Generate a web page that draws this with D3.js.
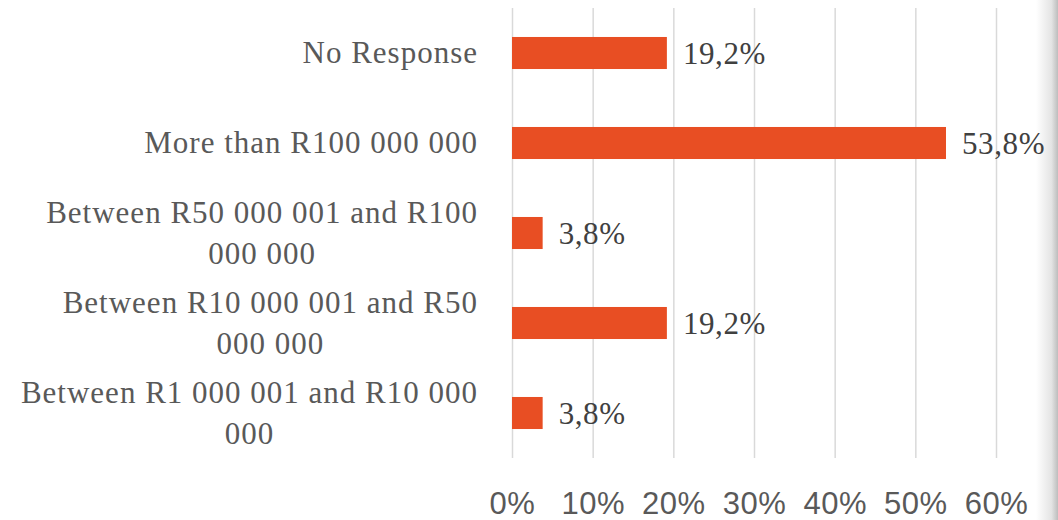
<!DOCTYPE html>
<html>
<head>
<meta charset="utf-8">
<script src="https://cdn.jsdelivr.net/npm/d3@7"></script>
<style>
    body { margin: 0; background: #ffffff; }
    svg { display: block; font-family: "Liberation Serif", serif; }
    .tick line { stroke: #d9d9d9; stroke-width: 1.5; }
    .tick text { fill: #595959; font-size: 31px; letter-spacing: 0.5px; }
</style>
</head>
<body>
<svg id="chart" width="1058" height="520"></svg>
<script>
// categories, top to bottom, split the way the labels wrap
const categories = [
    "No Response",
    "More than R100 000 000",
    "Between R50 000 001 and R100 000 000",
    "Between R10 000 001 and R50 000 000",
    "Between R1 000 001 and R10 000 000"
];
const labelLines = [
    ["No Response"],
    ["More than R100 000 000"],
    ["Between R50 000 001 and R100", "000 000"],
    ["Between R10 000 001 and R50", "000 000"],
    ["Between R1 000 001 and R10 000", "000"]
];
const values = [19.2, 53.8, 3.8, 19.2, 3.8];
const xTicks = [0, 10, 20, 30, 40, 50, 60];

var width = 1058,
    height = 520;

const margin = {
    top: 8,
    bottom: 62,
    left: 512,
    right: 62
};

var svg = d3.select("svg#chart");

// slide edge shadow on the right
var defs = svg.append("defs");
var shade = defs.append("linearGradient").attr("id", "edge");
shade.append("stop").attr("offset", "0%").attr("stop-color", "#ffffff");
shade.append("stop").attr("offset", "70%").attr("stop-color", "#e4e4e4");
shade.append("stop").attr("offset", "100%").attr("stop-color", "#bdbdbd");
svg.append("rect")
    .attr("x", width - 22).attr("y", 0)
    .attr("width", 22).attr("height", height)
    .attr("fill", "url(#edge)");

var x = d3.scaleLinear()
    .domain([0, 60])
    .range([margin.left, width - margin.right]);

var y = d3.scaleBand()
    .domain(categories)
    .range([margin.top, height - margin.bottom])
    .paddingInner(0.644)
    .paddingOuter(0.322);

var plotBottom = y.range()[1];

// gridlines + tick labels in one axis
var xAxis = d3.axisBottom(x)
    .tickValues(xTicks)
    .tickFormat(d => d + "%")
    .tickSize(-(plotBottom - margin.top))
    .tickPadding(34);

var axisG = svg.append("g")
    .attr("transform", "translate(0," + plotBottom + ")")
    .call(xAxis);
axisG.select(".domain").remove();

// bars
svg.append("g").selectAll("rect")
    .data(values)
    .enter()
    .append("rect")
    .attr("x", x(0))
    .attr("y", (d, i) => y(categories[i]))
    .attr("width", d => x(d) - x(0))
    .attr("height", y.bandwidth())
    .attr("fill", "#e84e23");

// value labels
svg.append("g").selectAll("text")
    .data(values)
    .enter()
    .append("text")
    .attr("x", d => x(d) + 16)
    .attr("y", (d, i) => y(categories[i]) + y.bandwidth() / 2 + 11)
    .attr("fill", "#404040")
    .style("font-size", "31px")
    .style("letter-spacing", "0.6px")
    .text(d => d.toFixed(1).replace(".", ",") + "%");

// category labels, lines centred on each other, right edge at 478
var labelG = svg.append("g");
labelLines.forEach(function(lines, i) {
    let center = y(categories[i]) + y.bandwidth() / 2;
    let t = labelG.append("text")
        .attr("fill", "#595959")
        .style("font-size", "31px")
        .style("letter-spacing", "1px")
        .attr("text-anchor", "middle");
    let spans = lines.map(function(line, j) {
        return t.append("tspan")
            .attr("y", center + 10 + (j - (lines.length - 1) / 2) * 41)
            .text(line);
    });
    let widest = d3.max(spans, s => s.node().getComputedTextLength());
    spans.forEach(s => s.attr("x", 478 - widest / 2));
});
</script>
</body>
</html>
